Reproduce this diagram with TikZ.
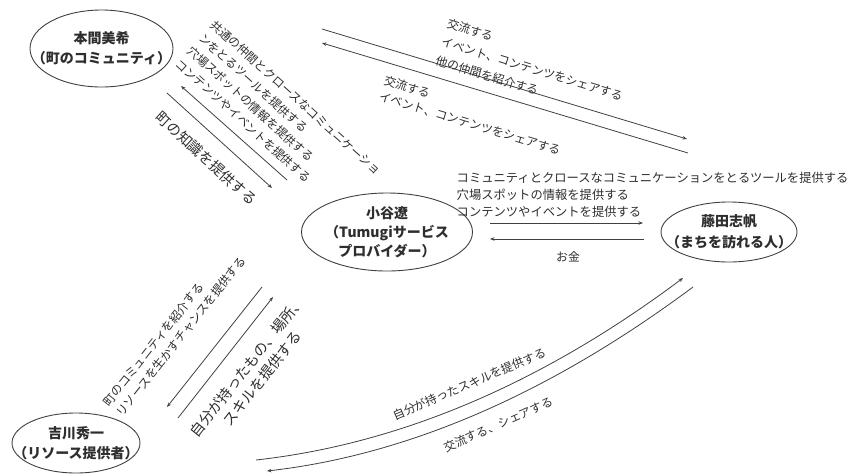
\documentclass[tikz,border=0pt]{standalone}
\usepackage{fontspec}
\setmainfont{Noto Sans CJK JP}
\usetikzlibrary{arrows.meta,shapes.geometric}
\definecolor{ink}{HTML}{2E2E2E}
\definecolor{linec}{HTML}{404040}
\begin{document}
\begin{tikzpicture}[x=1pt,y=-1pt,
  person/.style={ellipse,draw=linec,line width=0.9pt,inner sep=0pt},
  nametxt/.style={font=\fontsize{14}{20}\selectfont\bfseries,text=ink,align=center,inner sep=0pt},
  lbl/.style={font=\fontsize{11.8}{17.5}\selectfont,text=ink,inner sep=0pt},
  biglbl/.style={font=\fontsize{14.5}{19}\selectfont,text=ink,inner sep=0pt},
  conn/.style={draw=linec,line width=0.8pt,-{Stealth[length=4.5pt,width=3.5pt]}}
]
\useasboundingbox (0,0) rectangle (849,475);

% persons
\node[person,minimum width=143pt,minimum height=77pt] (honma) at (101.5,48.5) {};
\node[nametxt] (honmat) at (honma) {本間美希\\（町のコミュニティ）};
\node[person,minimum width=171pt,minimum height=78pt] (koya) at (387,232) {};
\node[nametxt,font=\fontsize{14}{19}\selectfont\bfseries] (koyat) at (koya) {小谷遼\\（Tumugiサービス\\プロバイダー）};
\node[person,minimum width=136pt,minimum height=60pt] (fujita) at (729,232) {};
\node[nametxt,font=\fontsize{14}{21}\selectfont\bfseries] (fujitat) at (fujita) {藤田志帆\\（まちを訪れる人）};
\node[person,minimum width=128pt,minimum height=60pt] (yoshi) at (76,443) {};
\node[nametxt] (yoshit) at (yoshi) {吉川秀一\\（リソース提供者）};

% connector ends
\coordinate (u1) at (322,29);   \coordinate (u2) at (687,139);
\coordinate (v1) at (688,153);  \coordinate (v2) at (322,43);
\coordinate (a1) at (287,180);  \coordinate (a2) at (181,86);
\coordinate (b1) at (167,93);   \coordinate (b2) at (272,188);
\coordinate (c1) at (262,287);  \coordinate (c2) at (167,407);
\coordinate (d1) at (178,418);  \coordinate (d2) at (273,297);
\coordinate (h1) at (490,223);  \coordinate (h2) at (643,223);
\coordinate (k1) at (644,239);  \coordinate (k2) at (490,239);
\coordinate (e1) at (256,460);  \coordinate (e2) at (683,278);
\coordinate (f1) at (693,287);  \coordinate (f2) at (267,471);

\draw[conn] (u1) -- (u2);
\draw[conn] (v1) -- (v2);
\draw[conn] (a1) -- (a2);
\draw[conn] (b1) -- (b2);
\draw[conn] (c1) -- (c2);
\draw[conn] (d1) -- (d2);
\draw[conn] (h1) -- (h2);
\draw[conn] (k1) -- (k2);
\draw[conn] (e1) .. controls (400,444) and (542.3,383.3) .. (e2);
\draw[conn] (f1) .. controls (549.7,393.7) and (407.7,455) .. (f2);

% labels
\node[lbl,rotate=-16.8,anchor=north west,align=left,font=\fontsize{11.8}{19.5}\selectfont] (lu) at (449,17.5)
  {交流する\\イベント、コンテンツをシェアする\\他の仲間を紹介する};
\node[lbl,rotate=-16.8,anchor=north west,align=left,font=\fontsize{11.8}{17}\selectfont] (lv) at (386,74.5)
  {交流する\\イベント、コンテンツをシェアする};
\node[lbl,rotate=-42,anchor=north west,align=left] (la) at (216.5,18.5)
  {共通の仲間とクロースなコミュニケーショ\\ンをとるツールを提供する\\穴場スポットの情報を提供する\\コンテンツやイベントを提供する};
\node[biglbl,rotate=-42.4] (lb) at (206.5,158.5) {町の知識を提供する};
\node[lbl,rotate=51.6,anchor=north west,align=left,font=\fontsize{11.8}{16.5}\selectfont] (lc) at (101.6,401)
  {町のコミュニティを紹介する\\リソースを生かすチャンスを提供する};
\node[biglbl,rotate=51.6,align=center] (ld) at (254.5,372.5) {自分が持ったもの、場所、\\スキルを提供する};
\node[lbl,anchor=north west,align=left,font=\fontsize{12.3}{17}\selectfont] (lh) at (456.5,172)
  {コミュニティとクロースなコミュニケーションをとるツールを提供する\\穴場スポットの情報を提供する\\コンテンツやイベントを提供する};
\node[lbl] (lk) at (568,257) {お金};
\node[lbl,rotate=22.9] (le) at (469.5,384) {自分が持ったスキルを提供する};
\node[lbl,rotate=23.6] (lf) at (498.5,424.5) {交流する、シェアする};
\end{tikzpicture}
\end{document}
